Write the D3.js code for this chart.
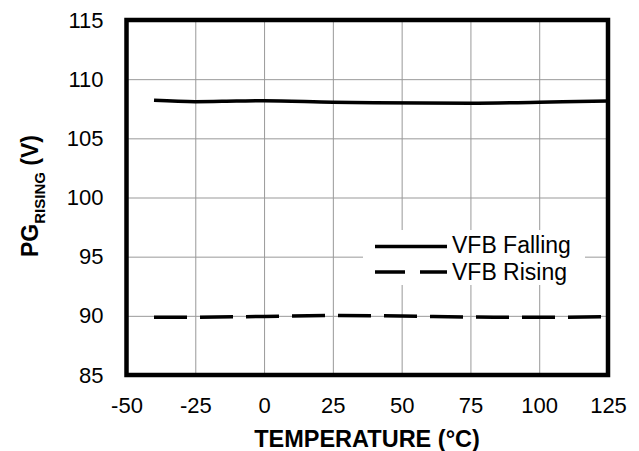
<!DOCTYPE html>
<html>
<head>
<meta charset="utf-8">
<script src="https://cdn.jsdelivr.net/npm/d3@7"></script>
<style>
  body { margin: 0; background: #fff; }
  svg { display: block; font-family: Arial, "Liberation Sans", sans-serif; }
</style>
</head>
<body>
<svg id="chart"></svg>
<script>
const width = 639;
const height = 451;
const padding = { left: 126.5, right: 31, top: 20, down: 76 };

// temperature ticks (°C) and PG threshold ticks (V)
const xTicks = [-50, -25, 0, 25, 50, 75, 100, 125];
const yTicks = [85, 90, 95, 100, 105, 110, 115];

// VFB Falling
const fallingTemp = [-40, -25, -10, 0, 25, 40, 75, 100, 125];
const fallingVolt = [108.21, 108.10, 108.15, 108.18, 108.05, 108.01, 107.96, 108.05, 108.15];

// VFB Rising
const risingTemp = [-40, -25, 0, 25, 50, 75, 100, 125];
const risingVolt = [89.87, 89.88, 89.95, 90.03, 89.98, 89.90, 89.88, 89.92];

const seriesNames = ['VFB Falling', 'VFB Rising'];

const svg = d3.select('#chart')
  .attr('width', width)
  .attr('height', height)
  .attr('viewBox', [0, 0, width, height]);

const xScale = d3.scaleLinear()
  .domain([-50, 125])
  .range([padding.left, width - padding.right]);

const yScale = d3.scaleLinear()
  .domain([85, 115])
  .range([height - padding.down, padding.top]);

// plain hyphen for negatives, like the original
const plain = d => String(d);

// grid lines
svg.append('g')
  .attr('transform', `translate(0, ${height - padding.down})`)
  .call(d3.axisBottom(xScale).tickValues(xTicks).tickSize(-(height - padding.down - padding.top)).tickFormat(''))
  .call(g => g.select('.domain').remove())
  .call(g => g.selectAll('line').attr('stroke', '#999').attr('stroke-width', 1));

svg.append('g')
  .attr('transform', `translate(${padding.left}, 0)`)
  .call(d3.axisLeft(yScale).tickValues(yTicks).tickSize(-(width - padding.left - padding.right)).tickFormat(''))
  .call(g => g.select('.domain').remove())
  .call(g => g.selectAll('line').attr('stroke', '#999').attr('stroke-width', 1));

// tick labels
const xAxisG = svg.append('g')
  .attr('transform', `translate(0, ${height - padding.down})`)
  .call(d3.axisBottom(xScale).tickValues(xTicks).tickSize(0).tickPadding(22).tickFormat(plain));
xAxisG.select('.domain').remove();
xAxisG.selectAll('text').attr('font-size', 22).attr('font-family', null).attr('fill', '#000');

const yAxisG = svg.append('g')
  .attr('transform', `translate(${padding.left}, 0)`)
  .call(d3.axisLeft(yScale).tickValues(yTicks).tickSize(0).tickPadding(23).tickFormat(plain));
yAxisG.select('.domain').remove();
yAxisG.selectAll('text').attr('font-size', 22).attr('font-family', null).attr('fill', '#000');

// lines
const line = d3.line()
  .x(d => xScale(d[0]))
  .y(d => yScale(d[1]))
  .curve(d3.curveMonotoneX);

svg.append('path')
  .datum(d3.zip(fallingTemp, fallingVolt))
  .attr('fill', 'none')
  .attr('stroke', '#000')
  .attr('stroke-width', 3.5)
  .attr('d', line);

svg.append('path')
  .datum(d3.zip(risingTemp, risingVolt))
  .attr('fill', 'none')
  .attr('stroke', '#000')
  .attr('stroke-width', 3.5)
  .attr('stroke-dasharray', '33,13')
  .attr('d', line);

// legend
const legend = svg.append('g');
legend.append('rect')
  .attr('x', 363).attr('y', 230)
  .attr('width', 222).attr('height', 55)
  .attr('fill', '#fff');

const legendRows = [
  { name: seriesNames[0], dash: null, ly: 246.5, ty: 252.5 },
  { name: seriesNames[1], dash: '30,15', ly: 272, ty: 280 }
];
legendRows.forEach(r => {
  legend.append('line')
    .attr('x1', 375).attr('x2', 447)
    .attr('y1', r.ly).attr('y2', r.ly)
    .attr('stroke', '#000')
    .attr('stroke-width', 3.5)
    .attr('stroke-dasharray', r.dash);
  legend.append('text')
    .attr('x', 452).attr('y', r.ty)
    .attr('font-size', 23)
    .text(r.name);
});

// frame
svg.append('rect')
  .attr('x', padding.left)
  .attr('y', padding.top)
  .attr('width', width - padding.left - padding.right)
  .attr('height', height - padding.top - padding.down)
  .attr('fill', 'none')
  .attr('stroke', '#000')
  .attr('stroke-width', 4.5);

// x-axis label
svg.append('text')
  .attr('text-anchor', 'middle')
  .attr('x', 367)
  .attr('y', 447)
  .attr('font-size', 23.5)
  .attr('font-weight', 'bold')
  .text('TEMPERATURE (°C)');

// y-axis label with subscript
const yLabel = svg.append('text')
  .attr('text-anchor', 'middle')
  .attr('transform', `translate(38, 196) rotate(-90)`)
  .attr('font-size', 23)
  .attr('font-weight', 'bold');
yLabel.append('tspan').text('PG');
yLabel.append('tspan').attr('font-size', 15).attr('dy', 7).text('RISING');
yLabel.append('tspan').attr('dy', -7).text(' (V)');
</script>
</body>
</html>
